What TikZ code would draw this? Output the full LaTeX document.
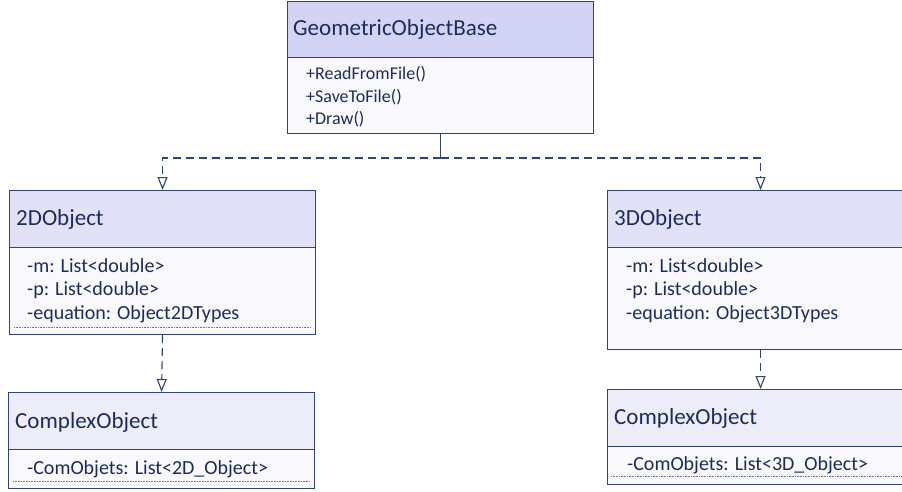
\documentclass[tikz,border=0pt]{standalone}
\usepackage{fontspec}
\setmainfont{Carlito}
\usetikzlibrary{arrows.meta}
\definecolor{umlline}{RGB}{50,68,118}
\definecolor{umltext}{RGB}{28,44,92}
\definecolor{hdrtop}{RGB}{211,211,245}
\definecolor{hdrmid}{RGB}{225,225,248}
\definecolor{hdrlow}{RGB}{237,237,250}
\definecolor{bodyfill}{RGB}{248,248,253}
\definecolor{sepline}{RGB}{110,120,160}
\tikzset{
  hdr/.style={draw=umlline, line width=1.1pt, minimum width=306pt, anchor=north west, inner sep=0pt},
  bodybox/.style={draw=umlline, line width=1.1pt, fill=bodyfill, minimum width=306pt, anchor=north west, inner sep=0pt},
  title/.style={anchor=base west, inner sep=0pt, text=umltext, font=\fontsize{23}{27}\selectfont},
  member/.style={anchor=base west, inner sep=0pt, text=umltext, font=\fontsize{20}{24}\selectfont},
  membersm/.style={anchor=base west, inner sep=0pt, text=umltext, font=\fontsize{18}{22}\selectfont},
  dep/.style={draw=umlline, line width=1.1pt, dash pattern=on 8pt off 5pt,
    -{Triangle[open, length=13pt, width=10pt, line width=1.1pt]}},
  trunk/.style={draw=umlline, line width=1.1pt},
  endrule/.style={draw=sepline, line width=0.8pt, dash pattern=on 1pt off 0.6pt}
}
\begin{document}
\begin{tikzpicture}[x=1pt, y=-1pt]
\clip (0,0) rectangle (902,491);
\fill[white] (0,0) rectangle (902,491);

% GeometricObjectBase
\node[hdr, fill=hdrtop, minimum height=56pt] (baseH) at (287,1) {};
\node[bodybox, minimum height=76pt] (baseB) at (287,57) {};
\node[title] (baseT) at (293,35) {GeometricObjectBase};
\node[membersm] (baseM1) at (306,79) {+ReadFromFile()};
\node[membersm] (baseM2) at (306,102) {+SaveToFile()};
\node[membersm] (baseM3) at (306,124) {+Draw()};

% 2DObject
\node[hdr, fill=hdrmid, minimum height=57pt] (twoH) at (9,190) {};
\node[bodybox, minimum height=87pt] (twoB) at (9,247) {};
\node[title] (twoT) at (16,225) {2DObject};
\node[member] (twoM1) at (27,272) {-m: List<double>};
\node[member] (twoM2) at (27,295) {-p: List<double>};
\node[member] (twoM3) at (27,319) {-equation: Object2DTypes};
\draw[endrule] (14,327) -- (311,327);

% 3DObject
\node[hdr, fill=hdrmid, minimum height=57pt] (threeH) at (607,190) {};
\node[bodybox, minimum height=102pt] (threeB) at (607,247) {};
\node[title] (threeT) at (614,225) {3DObject};
\node[member] (threeM1) at (626,272) {-m: List<double>};
\node[member] (threeM2) at (626,295) {-p: List<double>};
\node[member] (threeM3) at (626,319) {-equation: Object3DTypes};

% ComplexObject (2D)
\node[hdr, fill=hdrlow, minimum height=57pt] (cxaH) at (8,392) {};
\node[bodybox, minimum height=39pt] (cxaB) at (8,449) {};
\node[title] (cxaT) at (15,428) {ComplexObject};
\node[member] (cxaM1) at (27,474) {-ComObjets: List<2D\_Object>};
\draw[endrule] (13,481) -- (310,481);

% ComplexObject (3D)
\node[hdr, fill=hdrlow, minimum height=57pt] (cxbH) at (607,389) {};
\node[bodybox, minimum height=38pt] (cxbB) at (607,446) {};
\node[title] (cxbT) at (614,424) {ComplexObject};
\node[member] (cxbM1) at (627,470) {-ComObjets: List<3D\_Object>};
\draw[endrule] (611,476) -- (910,476);

% Inheritance connectors
\coordinate (split) at (baseB.south |- 0,158);
\draw[trunk] (baseB.south) -- (split);
\draw[dep] (split) -| (twoH.north);
\draw[dep] (split) -| (threeH.north);
\draw[dep] (twoB.south) -- (cxaH.north);
\draw[dep] (threeB.south) -- (cxbH.north);
\end{tikzpicture}
\end{document}
